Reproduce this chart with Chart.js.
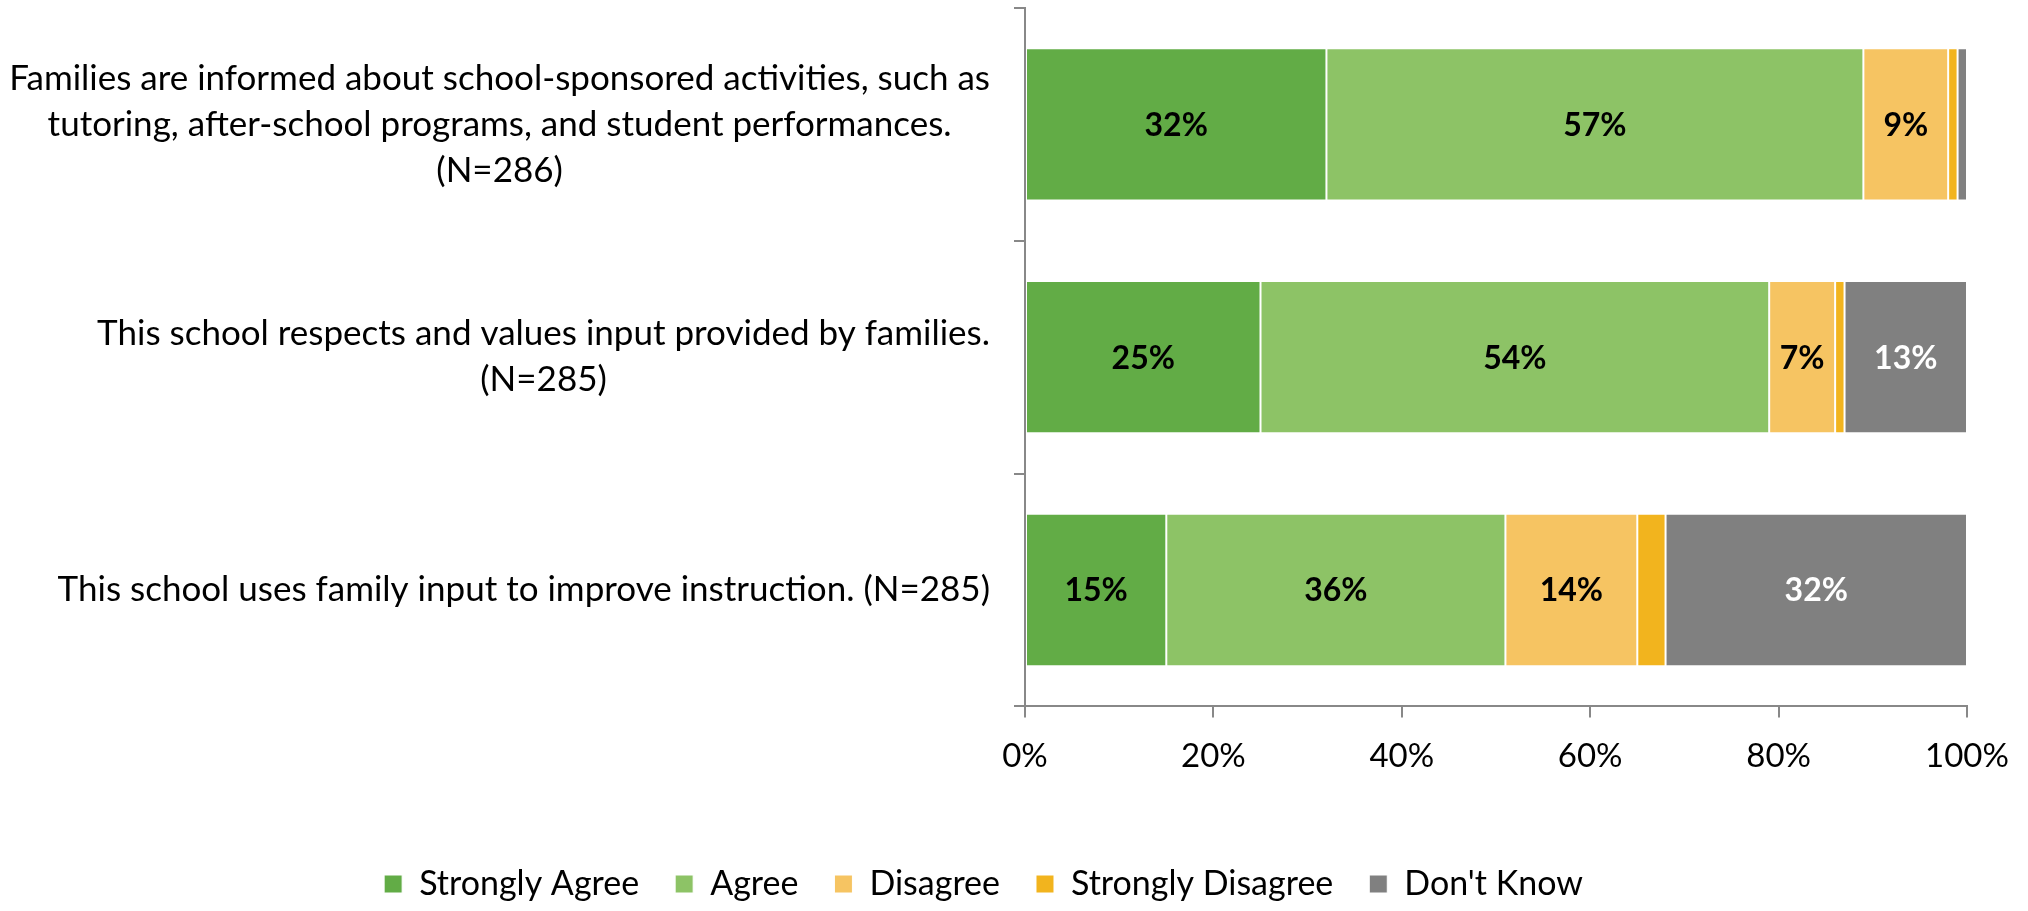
<!DOCTYPE html>
<html>
<head>
<meta charset="utf-8">
<script src="https://cdn.jsdelivr.net/npm/chart.js@4"></script>
<style>
  body { margin: 0; background: #fff; }
  #wrap { width: 2028px; height: 911px; }
</style>
</head>
<body>
<div id="wrap"><canvas id="barChart"></canvas></div>
<script>
const categories = [
  ['Families are informed about school-sponsored activities, such as',
   'tutoring, after-school programs, and student performances.',
   '(N=286)'],
  ['This school respects and values input provided by families.', '(N=285)'],
  ['This school uses family input to improve instruction. (N=285)'],
];
const seriesNames = ['Strongly Agree', 'Agree', 'Disagree', 'Strongly Disagree', "Don't Know"];
const stronglyAgree = [32, 25, 15];
const agree = [57, 54, 36];
const disagree = [9, 7, 14];
const stronglyDisagree = [1, 1, 3];
const dontKnow = [1, 13, 32];
const xTicks = [0, 20, 40, 60, 80, 100];

const colors = ['#62AC46', '#8DC366', '#F6C462', '#F2B41E', '#808080'];
const labelColors = ['#000', '#000', '#000', '#000', '#fff'];
const FONT = 'Lato';

// percentages inside the bars
const barLabels = {
  id: 'barLabels',
  afterDatasetsDraw(chart) {
    const ctx = chart.ctx;
    ctx.save();
    ctx.font = 'bold 32px ' + FONT;
    ctx.textAlign = 'center';
    ctx.textBaseline = 'middle';
    chart.data.datasets.forEach((ds, i) => {
      chart.getDatasetMeta(i).data.forEach((bar, j) => {
        const v = ds.data[j];
        if (v < 5) return;
        const p = bar.getCenterPoint();
        ctx.fillStyle = labelColors[i];
        ctx.fillText(v + '%', p.x, p.y + 1);
      });
    });
    ctx.restore();
  }
};

// category labels: each block right aligned, lines centred inside the block
const catLabels = {
  id: 'catLabels',
  afterDraw(chart) {
    const ctx = chart.ctx;
    const y = chart.scales.y;
    const right = 990, lh = 46;
    ctx.save();
    ctx.font = '35px ' + FONT;
    ctx.fillStyle = '#000';
    ctx.textAlign = 'center';
    ctx.textBaseline = 'middle';
    categories.forEach((lines, i) => {
      const w = Math.max(...lines.map(l => ctx.measureText(l).width));
      const cx = right - w / 2;
      const cy = y.getPixelForValue(i);
      lines.forEach((l, k) => {
        ctx.fillText(l, cx, cy + (k - (lines.length - 1) / 2) * lh);
      });
    });
    ctx.restore();
  }
};

const values = [stronglyAgree, agree, disagree, stronglyDisagree, dontKnow];

new Chart(document.getElementById('barChart').getContext('2d'), {
  type: 'bar',
  data: {
    labels: categories,
    datasets: seriesNames.map((name, i) => ({
      label: name,
      data: values[i],
      backgroundColor: colors[i],
      borderColor: '#fff',
      borderWidth: 1,
      borderSkipped: false,
      categoryPercentage: 0.654,
      barPercentage: 1,
    })),
  },
  options: {
    indexAxis: 'y',
    responsive: true,
    maintainAspectRatio: false,
    animation: false,
    layout: { padding: { top: 8, right: 61, left: 0, bottom: 0 } },
    scales: {
      x: {
        stacked: true,
        min: 0,
        max: 100,
        afterBuildTicks: s => { s.ticks = xTicks.map(v => ({ value: v })); },
        afterFit: s => { s.height += 36; },
        ticks: {
          callback: v => v + '%',
          font: { family: FONT, size: 33 },
          color: '#000',
          padding: 19,
          maxRotation: 0,
        },
        grid: { drawOnChartArea: false, tickLength: 11, color: '#888', lineWidth: 2 },
        border: { color: '#888', width: 2 },
      },
      y: {
        stacked: true,
        ticks: { display: false },
        afterFit: s => { s.width = 1025; },
        grid: { drawOnChartArea: false, tickLength: 11, color: '#888', lineWidth: 2 },
        border: { color: '#888', width: 2 },
      },
    },
    plugins: {
      legend: {
        position: 'bottom',
        labels: {
          font: { family: FONT, size: 34 },
          color: '#000',
          boxWidth: 18,
          boxHeight: 18,
          padding: 36,
        },
      },
      tooltip: { enabled: false },
    },
  },
  plugins: [barLabels, catLabels],
});
</script>
</body>
</html>
